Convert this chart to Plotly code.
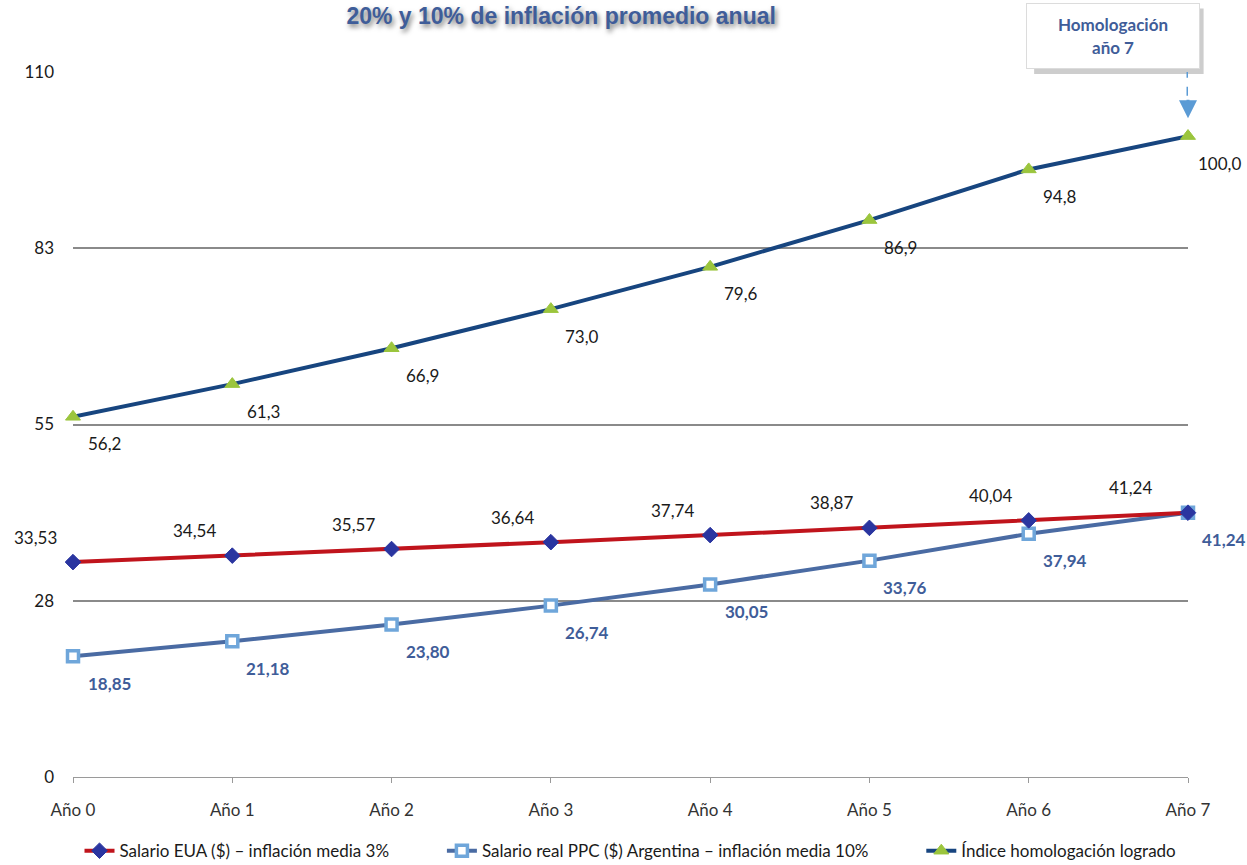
import plotly.graph_objects as go

categories = ["Año 0", "Año 1", "Año 2", "Año 3", "Año 4", "Año 5", "Año 6", "Año 7"]
salario_eua = [33.53, 34.54, 35.57, 36.64, 37.74, 38.87, 40.04, 41.24]
salario_arg = [18.85, 21.18, 23.80, 26.74, 30.05, 33.76, 37.94, 41.24]
indice = [56.2, 61.3, 66.9, 73.0, 79.6, 86.9, 94.8, 100.0]
tick_vals = [0, 27.5, 55, 82.5, 110]
tick_text = ["0", "28", "55", "83", "110"]

FONT = "Lato, Open Sans, sans-serif"
NB = "\u00a0"

def fmt(v, d):
    return f"{v:.{d}f}".replace(".", ",")

fig = go.Figure()

fig.add_trace(go.Scatter(
    x=categories, y=salario_arg, mode="lines+markers",
    name="Salario real PPC ($) Argentina – inflación media 10%" + NB * 11,
    line=dict(color="#4A6BA3", width=4),
    marker=dict(symbol="square", size=11, color="white",
                line=dict(color="#6FA6DA", width=3.5)),
    cliponaxis=False, legendrank=2))
fig.add_trace(go.Scatter(
    x=categories, y=salario_eua, mode="lines+markers",
    name="Salario EUA ($) – inflación media 3%" + NB * 11,
    line=dict(color="#C0141C", width=4),
    marker=dict(symbol="diamond", size=12, color="#2A35A0",
                line=dict(color="#2A35A0", width=1)),
    cliponaxis=False, legendrank=1))
fig.add_trace(go.Scatter(
    x=categories, y=indice, mode="lines+markers",
    name="Índice homologación logrado",
    line=dict(color="#17457F", width=4),
    marker=dict(symbol="triangle-up", size=13, color="#9BC53D",
                line=dict(color="#9BC53D", width=1)),
    cliponaxis=False, legendrank=3))

ann = []
for i, c in enumerate(categories):
    xs = -38 if i < 7 else -58
    ann.append(dict(x=c, y=salario_eua[i], text=fmt(salario_eua[i], 2),
                    xref="x", yref="y", showarrow=False, xshift=xs, yshift=25,
                    font=dict(family=FONT, size=17, color="#1a1a1a")))
    ann.append(dict(x=c, y=salario_arg[i], text="<b>" + fmt(salario_arg[i], 2) + "</b>",
                    xref="x", yref="y", showarrow=False, xshift=36, yshift=-27,
                    font=dict(family=FONT, size=17, color="#3F5D99")))
    ann.append(dict(x=c, y=indice[i], text=fmt(indice[i], 1),
                    xref="x", yref="y", showarrow=False, xshift=31, yshift=-27,
                    font=dict(family=FONT, size=17, color="#1a1a1a")))

# Homologación callout
ann.append(dict(x=0.933, y=1.051, xref="paper", yref="paper",
                xanchor="center", yanchor="middle",
                text="<b>Homologación<br>año 7</b>", showarrow=False,
                font=dict(family=FONT, size=17, color="#3F5D99"),
                bgcolor="white", bordercolor="#dcdcdc", borderwidth=1,
                width=170, height=62, align="center"))
ann.append(dict(x="Año 7", y=102.8, xref="x", yref="y", ax=0, ay=-20,
                text="", showarrow=True, arrowhead=2, arrowsize=1.2,
                arrowwidth=3, arrowcolor="#5B9BD5"))

shapes = [
    dict(type="rect", xref="paper", yref="paper", x0=0.862, x1=1.014,
         y0=0.997, y1=1.09, fillcolor="rgba(90,90,90,0.30)",
         line=dict(width=0), layer="below"),
    dict(type="line", xref="x", yref="y", x0="Año 7", x1="Año 7",
         y0=110.5, y1=104.5, line=dict(color="#5B9BD5", width=3, dash="dash")),
]

fig.update_layout(
    width=1247, height=865,
    margin=dict(l=73, r=59, t=72, b=88, autoexpand=False),
    paper_bgcolor="white", plot_bgcolor="white",
    title=dict(text="<b>20% y 10% de inflación promedio anual</b>",
               x=0.45, xanchor="center", y=0.981, yanchor="middle",
               font=dict(family="Liberation Sans Narrow, Liberation Sans, sans-serif",
                         size=23, color="#3F5D99",
                         shadow="2px 3px 5px #777")),
    showlegend=True,
    legend=dict(orientation="h", x=0.5, xanchor="center",
                yref="container", y=0.016, yanchor="middle",
                font=dict(family=FONT, size=17, color="#1a1a1a"),
                itemwidth=30, tracegroupgap=0),
    annotations=ann, shapes=shapes,
    xaxis=dict(type="category", range=[0, 7], showgrid=False,
               showline=True, linecolor="#9a9a9a", linewidth=1,
               ticks="outside", ticklen=5, tickcolor="#9a9a9a",
               tickfont=dict(family=FONT, size=17, color="#333"),
               ticklabelstandoff=13, automargin=False,
               zeroline=False),
    yaxis=dict(range=[0, 110], tickvals=tick_vals, ticktext=tick_text,
               showgrid=True, gridcolor="#8a8a8a", gridwidth=2,
               zeroline=False, showline=False, automargin=False,
               tickfont=dict(family=FONT, size=17, color="#1a1a1a"),
               ticklabelstandoff=18),
)

fig.write_html("out.html")
